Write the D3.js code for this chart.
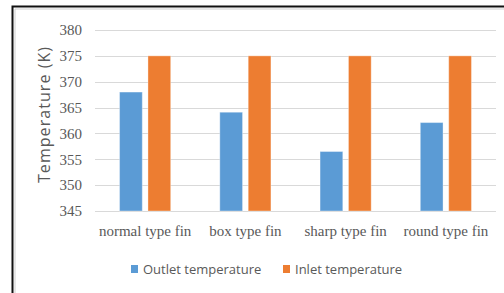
<!DOCTYPE html>
<html>
<head>
<meta charset="utf-8">
<script src="https://cdn.jsdelivr.net/npm/d3@7"></script>
<style>
  body { margin: 0; background: #fff; }
  svg { display: block; }
</style>
</head>
<body>
<svg id="chart" width="504" height="293"></svg>
<script>
// data
const categories = ["normal type fin", "box type fin", "sharp type fin", "round type fin"];
const seriesNames = ["Outlet temperature", "Inlet temperature"];
const outletTemp = [368, 364.1, 356.5, 362.1];
const inletTemp = [375, 375, 375, 375];
const yTicks = [345, 350, 355, 360, 365, 370, 375, 380];
const colors = ["#5b9bd5", "#ed7d31"];

const svg = d3.select("#chart");

// outer frame (only left and top edges are visible)
svg.append("rect")
  .attr("x", 12.5).attr("y", 6.5)
  .attr("width", 600).attr("height", 400)
  .attr("fill", "none")
  .attr("stroke", "#111")
  .attr("stroke-width", 2);
svg.append("path")
  .attr("d", "M15,300V9H504")
  .attr("fill", "none")
  .attr("stroke", "#d0d0d0")
  .attr("stroke-width", 1);

const plot = {left: 95, right: 496, top: 30, bottom: 211};

const y = d3.scaleLinear()
  .domain([345, 380])
  .range([plot.bottom, plot.top]);

const x0 = d3.scaleBand()
  .domain(categories)
  .range([plot.left, plot.right])
  .paddingInner(0.49)
  .paddingOuter(0.245);

const x1 = d3.scaleBand()
  .domain(seriesNames)
  .range([0, x0.bandwidth()])
  .paddingInner(0.2);

// gridlines
svg.append("g")
  .selectAll("line")
  .data(yTicks)
  .enter().append("line")
  .attr("x1", plot.left)
  .attr("x2", plot.right)
  .attr("y1", d => Math.round(y(d)) + 0.5)
  .attr("y2", d => Math.round(y(d)) + 0.5)
  .attr("stroke", "#d9d9d9")
  .attr("stroke-width", 1);

// y axis labels
const yAxis = d3.axisLeft(y)
  .tickValues(yTicks)
  .tickSize(0)
  .tickPadding(13);

svg.append("g")
  .attr("transform", "translate(" + plot.left + ",0)")
  .call(yAxis)
  .call(g => g.select(".domain").remove())
  .selectAll("text")
  .style("font-family", "'Liberation Serif', serif")
  .style("font-size", "15px")
  .attr("fill", "#595959");

// bars
const rows = categories.map((c, i) => ({cat: c, vals: [outletTemp[i], inletTemp[i]]}));

const groups = svg.append("g")
  .selectAll("g")
  .data(rows)
  .enter().append("g")
  .attr("transform", d => "translate(" + x0(d.cat) + ",0)");

groups.selectAll("rect")
  .data(d => d.vals.map((v, j) => ({name: seriesNames[j], value: v, j: j})))
  .enter().append("rect")
  .attr("x", d => x1(d.name))
  .attr("width", x1.bandwidth())
  .attr("y", d => y(d.value))
  .attr("height", d => y(345) - y(d.value))
  .attr("fill", d => colors[d.j])
  .attr("stroke", "#fff")
  .attr("stroke-opacity", 0.35)
  .attr("stroke-width", 1);

// x axis labels
const xAxis = d3.axisBottom(x0)
  .tickSize(0)
  .tickPadding(14);

svg.append("g")
  .attr("transform", "translate(0," + plot.bottom + ")")
  .call(xAxis)
  .call(g => g.select(".domain").remove())
  .selectAll("text")
  .style("font-family", "'Liberation Serif', serif")
  .style("font-size", "15px")
  .attr("fill", "#595959");

// y axis title
svg.append("text")
  .attr("transform", "translate(50,115) rotate(-90)")
  .attr("text-anchor", "middle")
  .attr("textLength", 136)
  .attr("lengthAdjust", "spacing")
  .style("font-family", "'Open Sans', sans-serif")
  .style("font-size", "16px")
  .attr("fill", "#595959")
  .text("Temperature (K)");

// legend
const legendX = [131, 283];
const legend = svg.append("g")
  .selectAll("g")
  .data(seriesNames)
  .enter().append("g")
  .attr("transform", (d, i) => "translate(" + legendX[i] + ",265)");

legend.append("rect")
  .attr("width", 7)
  .attr("height", 8)
  .attr("fill", (d, i) => colors[i]);

legend.append("text")
  .attr("x", 12)
  .attr("y", 8.5)
  .style("font-family", "'Open Sans', sans-serif")
  .style("font-size", "13px")
  .attr("fill", "#595959")
  .text(d => d);
</script>
</body>
</html>
